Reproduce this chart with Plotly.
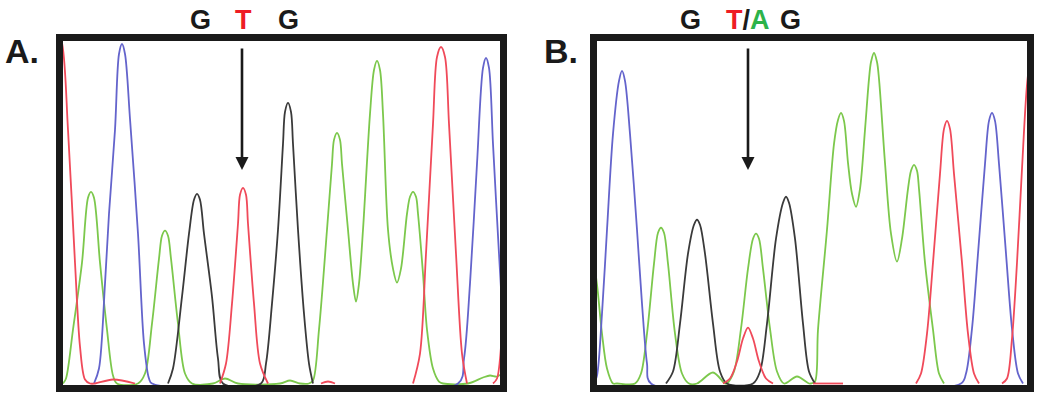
import plotly.graph_objects as go

# ---------------- Data (scan position, signal intensity) ----------------
# Panel A : homozygous T  (None = trace hidden under baseline)
a_red_x   = [-8, -1, 5, 12, 17, 22, 27, 32, 50, 72, None,
             157, 163, 169, 175, 177, 180, 183, 185, 191, 197, 205, None,
             258, 265, 272, None,
             350, 357, 363, 370, 374, 378, 382, 386, 393, 399, 404, None, 430, 434, 439, 446]
a_red_y   = [360, 341, 254, 121, 37, 4, 0, 0, 4, 0, None,
             0, 20, 80, 160, 189, 196, 189, 160, 80, 20, 0, None,
             0, 2, 0, None,
             0, 30, 130, 260, 327, 337, 327, 260, 130, 30, 0, None, 0, 5, 51, 200]

a_blue_x  = [31, 36, 42, 46, 52, 56, 59, 62, 67, 75, 81, 86, 89,
             395, 401, 407, 414, 420, 423, 426, 430, 436, 441, 446, 450]
a_blue_y  = [0, 15, 100, 170, 254, 330, 340, 330, 265, 150, 40, 5, 0,
             0, 25, 100, 220, 316, 326, 316, 240, 130, 50, 5, 0]

a_green_x = [0, 3, 10, 19, 25, 28, 31, 37, 44, 50, 54, 75, 82, 89, 96, 99, 102, 105, 108, 115, 122, 129,
             150, 162, 175, 217, 227, 237,
             246, 250, 256, 264, 269, 271, 274, 277, 279, 285, 290, 293, 296, 300, 307, 311, 314, 317, 320,
             325, 330, 334, 338, 344, 347, 350, 353, 355, 360, 364, 370, 376, 380, 405, 420, 427, 434, 439]
a_green_y = [0, 5, 54, 121, 186, 192, 186, 121, 54, 8, 0, 0, 10, 60, 125, 148, 153, 148, 125, 60, 10, 0,
             0, 5, 0, 0, 3, 0,
             0, 3, 54, 154, 220, 244, 251, 244, 220, 154, 100, 82, 100, 154, 270, 314, 323, 314, 270,
             154, 115, 101, 115, 170, 187, 192, 187, 170, 110, 54, 15, 2, 0, 0, 6, 8, 7, 10]

a_black_x = [105, 110, 119, 126, 131, 134, 137, 141, 149, 155, 160,
             198, 203, 209, 215, 220, 222, 225, 228, 230, 235, 241, 246, 250]
a_black_y = [0, 15, 87, 150, 184, 190, 184, 150, 87, 25, 0,
             0, 20, 80, 154, 240, 272, 281, 272, 240, 154, 70, 20, 0]

# Panel B : heterozygous T/A
b_red_x   = [126, 133, 140, 146, 151, 156, 162, 169, 176, None, 216, 246, None,
             319, 324, 330, 336, 343, 347, 350, 353, 357, 365, 371, 377, 382, None,
             405, 410, 415, 420, 425, 430, 436]
b_red_y   = [0, 5, 22, 45, 56, 45, 22, 5, 0, None, 0, 0, None,
             0, 10, 50, 121, 210, 255, 263, 255, 210, 121, 50, 10, 0, None,
             0, 5, 45, 121, 215, 299, 350]

b_blue_x  = [-3, 0, 5, 10, 16, 22, 25, 28, 33, 40, 45, 50, 54,
             364, 369, 375, 381, 388, 392, 395, 398, 402, 409, 415, 421, 426]
b_blue_y  = [0, 8, 70, 154, 250, 303, 313, 303, 250, 154, 80, 20, 0,
             0, 10, 55, 130, 220, 263, 271, 263, 220, 130, 55, 10, 0]

b_green_x = [-6, 0, 5, 10, 16, 20, 38, 44, 50, 57, 61, 64, 67, 71, 78, 85, 92, 100, 116, 128,
             130, 137, 144, 151, 156, 159, 162, 166, 173, 180, 187, 200, 212,
             214, 218, 221, 230, 237, 241, 244, 247, 251, 255, 259, 263, 268, 272, 274, 277, 280, 282,
             288, 294, 300, 305, 311, 314, 317, 320, 322, 328, 336, 342, 347]
b_green_y = [140, 99, 50, 15, 0, 0, 0, 10, 50, 120, 151, 156, 151, 120, 50, 10, 0, 0, 11, 0,
             0, 12, 55, 115, 145, 150, 145, 115, 55, 12, 0, 7, 0,
             0, 2, 54, 154, 240, 264, 271, 263, 221, 190, 177, 195, 254, 305, 322, 331, 322, 305,
             221, 150, 122, 145, 195, 213, 219, 213, 195, 121, 54, 10, 0]

b_black_x = [69, 76, 83, 91, 97, 100, 103, 108, 116, 123, 130,
             156, 163, 170, 179, 186, 189, 192, 198, 206, 212, 218]
b_black_y = [0, 12, 60, 130, 159, 164, 159, 130, 60, 12, 0,
             0, 12, 60, 145, 181, 187, 181, 145, 60, 12, 0]

panel_labels = ["A.", "B."]

# ---------------- Styling ----------------
RED, BLUE, GREEN, BLACK = "#f04a5a", "#6464cc", "#7cc84c", "#3a3a3a"
W, H = 1050, 407

fig = go.Figure()

def add(x, y, color, ax):
    fig.add_trace(go.Scatter(x=x, y=y, mode="lines", xaxis=ax[0], yaxis=ax[1], connectgaps=False,
                             line=dict(color=color, width=1.8, shape="spline", smoothing=0.9),
                             hoverinfo="skip", showlegend=False, cliponaxis=True))

for xs, ys, c in [(a_green_x, a_green_y, GREEN), (a_black_x, a_black_y, BLACK),
                  (a_blue_x, a_blue_y, BLUE), (a_red_x, a_red_y, RED)]:
    add(xs, ys, c, ("x", "y"))
for xs, ys, c in [(b_green_x, b_green_y, GREEN), (b_black_x, b_black_y, BLACK),
                  (b_blue_x, b_blue_y, BLUE), (b_red_x, b_red_y, RED)]:
    add(xs, ys, c, ("x2", "y2"))

def px(v):
    return v / W

def py(v):
    return 1 - v / H

ax_common = dict(showgrid=False, zeroline=False, showticklabels=False, ticks="", showline=False, fixedrange=True)
fig.update_layout(
    width=W, height=H, margin=dict(l=0, r=0, t=0, b=0),
    paper_bgcolor="white", plot_bgcolor="white",
    xaxis=dict(domain=[px(63), px(500)], range=[0, 437], **ax_common),
    yaxis=dict(domain=[py(385), py(41)], range=[-1.5, 343], **ax_common),
    xaxis2=dict(domain=[px(597), px(1027)], range=[0, 430], anchor="y2", **ax_common),
    yaxis2=dict(domain=[py(385), py(41)], range=[-1.5, 343], anchor="x2", **ax_common),
)

# frames
for x0, x1 in [(59.5, 503.5), (593.5, 1030.5)]:
    fig.add_shape(type="rect", xref="paper", yref="paper",
                  x0=px(x0), x1=px(x1), y0=py(388.5), y1=py(37.5),
                  line=dict(color="#1a1a1a", width=7), fillcolor="rgba(0,0,0,0)", layer="above")

FONT = "Liberation Sans, Arial, sans-serif"

# panel labels
for lbl, xc in zip(panel_labels, [22, 561]):
    fig.add_annotation(x=px(xc), y=py(51), xref="paper", yref="paper", text="<b>%s</b>" % lbl,
                       showarrow=False, font=dict(family=FONT, size=34, color="#1a1a1a"),
                       xanchor="center", yanchor="middle")

# base calls above panels
letters = [("G", 200, "#1a1a1a"), ("T", 243, "#ee1c24"), ("G", 288, "#1a1a1a"),
           ("G", 690, "#1a1a1a"), ("G", 790, "#1a1a1a")]
for t, xc, col in letters:
    fig.add_annotation(x=px(xc), y=py(20), xref="paper", yref="paper", text="<b>%s</b>" % t,
                       showarrow=False, font=dict(family=FONT, size=27, color=col),
                       xanchor="center", yanchor="middle")
fig.add_annotation(x=px(748), y=py(20), xref="paper", yref="paper",
                   text="<b><span style='color:#ee1c24'>T</span>/<span style='color:#2db34a'>A</span></b>",
                   showarrow=False, font=dict(family=FONT, size=27, color="#1a1a1a"),
                   xanchor="center", yanchor="middle")

# arrows
for xa in [242, 748]:
    fig.add_annotation(x=px(xa), y=py(170), xref="paper", yref="paper", text="",
                       showarrow=True, axref="pixel", ayref="pixel", ax=0, ay=-123,
                       arrowhead=2, arrowsize=1, arrowwidth=2.6, arrowcolor="#1a1a1a")

fig.write_html("out.html", config={"displayModeBar": False},
               post_script="document.body.style.margin='0px';")
